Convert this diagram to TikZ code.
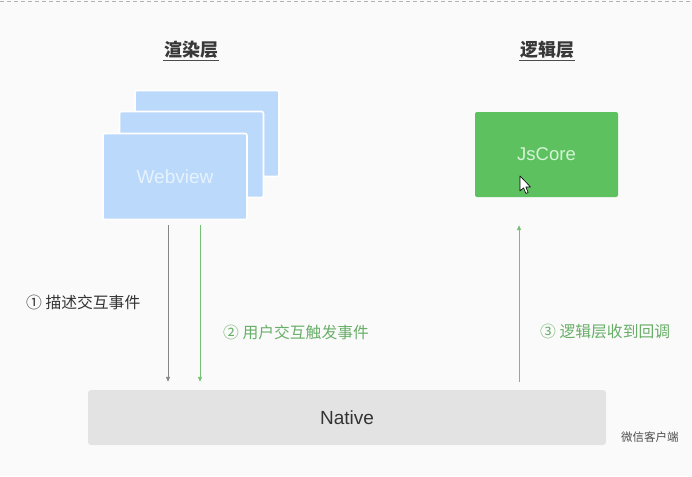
\documentclass[tikz,border=0pt]{standalone}
\usepackage{fontspec}
\setmainfont{Liberation Sans}
\newfontfamily\cjk{Noto Sans CJK SC}
\usetikzlibrary{arrows.meta}
\definecolor{bgcol}{HTML}{FAFAFA}
\definecolor{webblue}{HTML}{BBD9FB}
\definecolor{webtext}{HTML}{E6F3FF}
\definecolor{jsgreen}{HTML}{5DC160}
\definecolor{jstext}{HTML}{D6F4D6}
\definecolor{arrgreen}{HTML}{74C174}
\definecolor{natgray}{HTML}{E3E3E3}
\tikzset{
  title/.style={font=\cjk\bfseries\fontsize{18}{21}\selectfont,text=black!78,inner sep=1pt},
  page/.style={fill=webblue,draw=white,line width=1.6pt,rounded corners=2pt,
               minimum width=144pt,minimum height=86pt,inner sep=0pt},
  jsbox/.style={fill=jsgreen,rounded corners=2pt,minimum width=143pt,minimum height=85pt,
                font=\fontsize{18.5}{21}\selectfont,text=jstext},
  natbox/.style={fill=natgray,rounded corners=3pt,minimum width=518pt,minimum height=55pt,
                 font=\fontsize{19}{22}\selectfont,text=black!80},
  step label/.style={font=\cjk\fontsize{15.8}{18}\selectfont,anchor=west,inner sep=0pt},
  garrow/.style={-{Triangle[length=5pt,width=4pt]},gray!95,line width=0.9pt},
  carrow/.style={-{Triangle[length=5pt,width=4pt]},arrgreen,line width=0.9pt},
}

\begin{document}
\begin{tikzpicture}[x=1pt,y=-1pt]
  \fill[bgcol] (0,0) rectangle (692,476);
  \useasboundingbox (0,0) rectangle (692,476);
  \draw[gray!60,dash pattern=on 4pt off 3pt,line width=0.8pt] (0,1) -- (692,1);

  % layer titles
  \node[title] (trender) at (191,50) {渲染层};
  \node[title] (tlogic) at (547,50) {逻辑层};
  \draw[black!70,line width=0.9pt] ([yshift=-1pt]trender.south west) -- ([yshift=-1pt]trender.south east);
  \draw[black!70,line width=0.9pt] ([yshift=-1pt]tlogic.south west) -- ([yshift=-1pt]tlogic.south east);

  % webview stack
  \foreach \i/\x/\y in {3/207/133.5,2/191.5/154.5}
    \node[page] (pg\i) at (\x,\y) {};
  \node[page,font=\fontsize{19}{22}\selectfont,text=webtext] (web) at (175,176.5) {Webview};

  \node[jsbox] (js) at (546.5,154.5) {JsCore};
  % cursor
  \filldraw[fill=white,draw=black,line width=0.6pt,line join=round]
    (520,176) -- (520,191) -- (523.5,187.8) -- (526,193.5) -- (528.2,192.5)
    -- (525.8,187) -- (530.5,187) -- cycle;

  \node[natbox] (nat) at (347,417.5) {Native};
  \node[font=\cjk\fontsize{11.5}{14}\selectfont,text=black!70,anchor=west,inner sep=0pt]
    (client) at (621,437) {微信客户端};

  % connectors
  \coordinate (c1) at (168,0);
  \coordinate (c2) at (200,0);
  \coordinate (c3) at (519,0);
  \draw[garrow] ([yshift=-5pt]web.south -| c1) -- ([yshift=8pt]nat.north -| c1);
  \draw[carrow] ([yshift=-5pt]web.south -| c2) -- ([yshift=8pt]nat.north -| c2);
  \draw[carrow] ([yshift=8pt]nat.north -| c3) -- ([yshift=-28pt]js.south -| c3);

  \node[step label,text=black!80] (s1) at (26,302) {① 描述交互事件};
  \node[step label,text=arrgreen!90!black] (s2) at (223,332) {② 用户交互触发事件};
  \node[step label,text=arrgreen!90!black] (s3) at (540,332) {③ 逻辑层收到回调};
\end{tikzpicture}
\end{document}
